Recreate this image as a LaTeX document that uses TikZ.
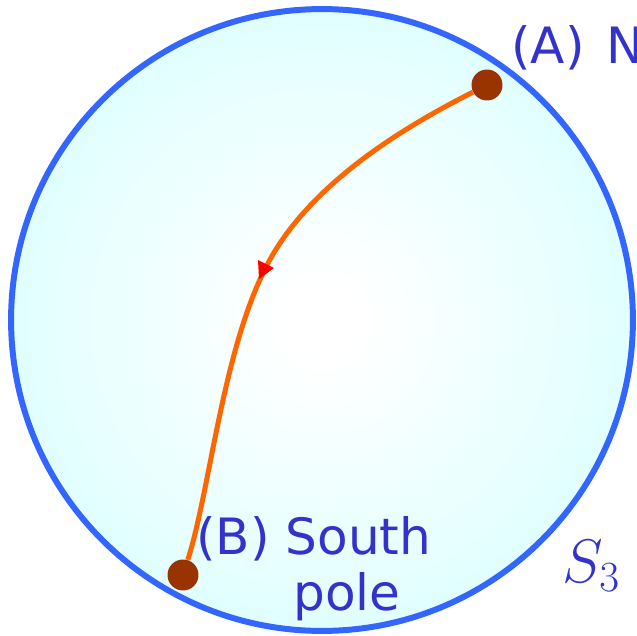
\RequirePackage{fix-cm}
\documentclass[tikz,border=0pt]{standalone}
\usepackage{fontspec}
\setmainfont{DejaVu Sans}
\usepackage{tikz}

\definecolor{rimblue}{RGB}{51,102,255}
\definecolor{labelblue}{RGB}{51,51,204}
\definecolor{pathorange}{RGB}{255,102,0}
\definecolor{poledot}{RGB}{153,51,0}
\definecolor{edgecyan}{RGB}{204,255,255}
\pgfdeclareradialshading{sphereglow}{\pgfpoint{0bp}{0bp}}{color(0bp)=(white); color(3bp)=(white); color(40bp)=(edgecyan); color(50bp)=(edgecyan)}

\begin{document}
\begin{tikzpicture}[x=0.02cm, y=-0.02cm,
    polept/.style={circle, fill=poledot, minimum size=0.62cm, inner sep=0pt},
    lbl/.style={text=labelblue, inner sep=0pt, anchor=base west, font=\fontsize{28.5}{33}\selectfont},
    trail/.style={draw=pathorange, line width=2.85pt}]
    % Marges del dibuix (pixels de la imatge)
    \useasboundingbox (0,0) rectangle (637,636);

    % L'esfera S_3: interior amb degradat i vora blava
    \coordinate (ctr) at (322,320);
    \shade[shading=sphereglow] (ctr) circle (6.22cm);
    \draw[rimblue, line width=3.4pt] (ctr) circle (6.22cm);

    % Pols (A) i (B)
    \node[polept] (north) at (487,85) {};
    \node[polept] (south) at (183,575) {};
    \coordinate (turn) at (265,269);

    % Camí de A cap a B
    \draw[trail] (north) .. controls (398,130) and (305,188) .. (turn)
        .. controls (222,355) and (210,490) .. (south);

    % Marca de direcció (triangle vermell)
    \fill[red, shift={(turn)}] (-7,-9) -- (9,-1) -- (-6,10) -- cycle;

    % Etiquetes
    \node[lbl] (northlbl) at (511,63) {(A)\hspace{0.12em} N};
    \node[lbl] (southlbl) at (196,554) {(B) South};
    \node[lbl] (polelbl) at (293,610) {pole};
    \node[text=labelblue, inner sep=0pt, anchor=base west, font=\fontsize{35}{40}\selectfont] (sphlbl) at (562,582) {$S_3$};
\end{tikzpicture}
\end{document}
